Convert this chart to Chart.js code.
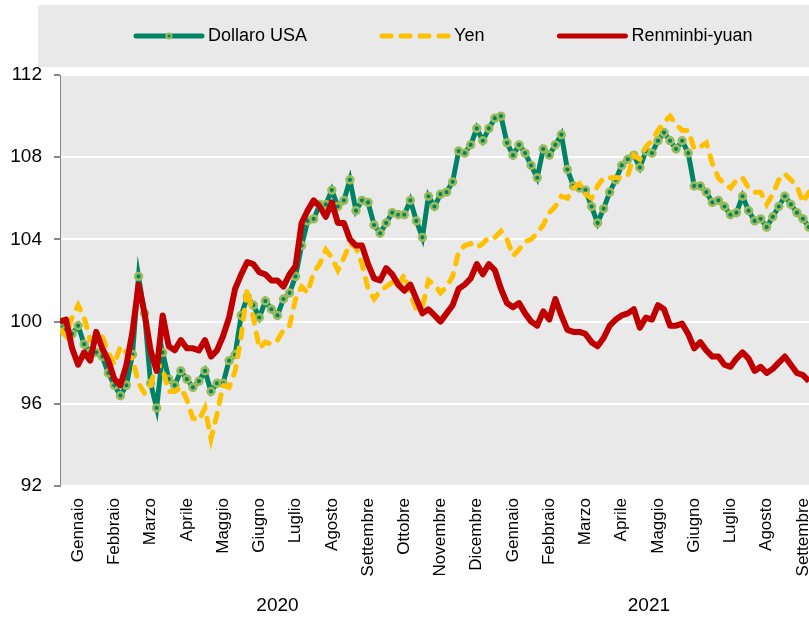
<!DOCTYPE html>
<html>
<head>
<meta charset="utf-8">
<script src="https://cdn.jsdelivr.net/npm/chart.js@4"></script>
<style>
  body { margin: 0; background: #fff; }
</style>
</head>
<body>
<canvas id="cambi" width="809" height="622"></canvas>
<script>
// mesi sull'asse x (gennaio 2020 - settembre 2021)
const mesi = ['Gennaio', 'Febbraio', 'Marzo', 'Aprile', 'Maggio', 'Giugno', 'Luglio', 'Agosto',
    'Settembre', 'Ottobre', 'Novembre', 'Dicembre', 'Gennaio', 'Febbraio', 'Marzo', 'Aprile',
    'Maggio', 'Giugno', 'Luglio', 'Agosto', 'Settembre'];
const anni = ['2020', '2021'];
const yTicks = [92, 96, 100, 104, 108, 112];
const puntiPerMese = 6;

// indici (gennaio 2020 = 100), un valore ogni 1/6 di mese
const dollaro = [
    100.0, 99.6, 99.4, 99.8, 98.9, 98.5, 98.5, 98.3, 97.5, 96.9,
    96.4, 96.9, 98.4, 102.2, 100.4, 97.0, 95.8, 98.5, 97.2, 96.9,
    97.6, 97.2, 96.8, 97.1, 97.6, 96.6, 97.0, 97.0, 98.1, 98.4,
    100.3, 101.2, 100.8, 100.2, 101.0, 100.6, 100.3, 101.1, 101.4, 102.2,
    103.7, 104.9, 105.0, 105.7, 105.7, 106.4, 105.6, 105.9, 106.9, 105.4,
    105.9, 105.8, 104.7, 104.3, 104.8, 105.3, 105.2, 105.2, 105.9, 104.9,
    104.1, 106.1, 105.6, 106.2, 106.3, 106.8, 108.3, 108.2, 108.6, 109.4,
    108.8, 109.4, 109.9, 110.0, 108.7, 108.1, 108.6, 108.2, 107.6, 107.0,
    108.4, 108.1, 108.6, 109.1, 107.4, 106.6, 106.5, 106.4, 105.6, 104.8,
    105.5, 106.3, 106.9, 107.6, 107.9, 108.1, 107.5, 108.3, 108.2, 108.8,
    109.2, 108.8, 108.4, 108.8, 108.2, 106.6, 106.6, 106.3, 105.8, 105.9,
    105.6, 105.2, 105.3, 106.1, 105.4, 104.9, 105.0, 104.6, 105.1, 105.6,
    106.1, 105.7, 105.3, 105.0, 104.6
];
const yen = [
    99.6, 99.3, 100.2, 100.8, 100.2, 99.1, 99.0, 99.3, 98.5, 97.9,
    98.8, 98.5, 98.2, 97.0, 96.5, 96.9, 98.0, 97.7, 96.6, 96.6,
    96.8, 96.2, 95.3, 95.2, 95.8, 94.3, 95.5, 96.9, 96.8, 97.6,
    99.3, 101.6, 100.2, 98.7, 99.0, 98.9, 99.1, 99.6, 99.8, 101.1,
    101.7, 101.4, 102.4, 102.8, 103.5, 103.1, 102.5, 103.1, 103.8, 103.6,
    102.8, 101.6, 101.1, 101.5, 101.7, 101.9, 101.7, 102.3, 101.3, 100.6,
    100.7, 102.0, 101.8, 101.4, 101.7, 102.2, 103.4, 103.7, 103.8, 103.6,
    103.8, 104.1, 104.1, 104.4, 104.0, 103.2, 103.5, 103.9, 104.0, 104.3,
    104.7, 105.3, 105.6, 106.1, 106.0, 106.5, 106.7, 106.2, 106.0, 106.6,
    107.0, 107.0, 107.0, 107.0, 107.1, 108.1, 107.9, 108.5, 108.8, 109.3,
    109.7, 110.0, 109.6, 109.3, 109.3, 108.4, 108.5, 108.7, 107.7, 107.0,
    106.7, 106.5, 106.9, 107.0, 106.5, 106.3, 106.3, 105.7, 106.2, 106.9,
    107.2, 106.9, 106.6, 105.8, 106.3
];
const renminbi = [
    100.0, 100.1, 98.7, 97.9, 98.5, 98.1, 99.5, 98.7, 98.1, 97.2,
    96.9, 97.9, 99.5, 101.8, 100.4, 98.6, 97.6, 100.3, 98.8, 98.6,
    99.1, 98.7, 98.7, 98.6, 99.1, 98.3, 98.6, 99.3, 100.2, 101.6,
    102.3, 102.9, 102.8, 102.4, 102.3, 102.0, 102.0, 101.7, 102.3, 102.7,
    104.8, 105.4, 105.9, 105.6, 105.1, 105.8, 104.8, 104.8, 104.0, 103.7,
    103.7, 102.8, 102.1, 102.0, 102.6, 102.3, 101.8, 101.5, 101.8, 101.1,
    100.4, 100.6, 100.3, 100.0, 100.4, 100.8, 101.6, 101.8, 102.1, 102.8,
    102.3, 102.8, 102.5, 101.6, 100.9, 100.7, 100.9, 100.4, 100.0, 99.8,
    100.5, 100.1, 101.1, 100.3, 99.6, 99.5, 99.5, 99.4, 99.0, 98.8,
    99.2, 99.8, 100.1, 100.3, 100.4, 100.6, 99.7, 100.2, 100.1, 100.8,
    100.6, 99.8, 99.8, 99.9, 99.4, 98.7, 99.0, 98.6, 98.3, 98.3,
    97.9, 97.8, 98.2, 98.5, 98.2, 97.6, 97.8, 97.5, 97.7, 98.0,
    98.3, 97.9, 97.5, 97.4, 97.1
];

const FONT = "'Liberation Sans', Arial, sans-serif";
Chart.defaults.font.family = FONT;
Chart.defaults.color = '#000';

function punti(valori) {
    return valori.map((v, i) => ({ x: i / puntiPerMese, y: v }));
}

// sfondo grigio dell'area del grafico e della legenda
const sfondo = {
    id: 'sfondo',
    beforeDraw(chart) {
        const { ctx, chartArea: a } = chart;
        ctx.save();
        ctx.fillStyle = '#e9e9e9';
        ctx.fillRect(a.left, a.top, a.right - a.left, a.bottom - a.top);
        ctx.fillRect(38, 5, chart.width - 38, 62);
        ctx.restore();
    }
};

// legenda disegnata a mano (linea campione + testo)
const legenda = {
    id: 'legenda',
    afterDraw(chart) {
        const ctx = chart.ctx;
        let x = 133;
        const y = 36;
        ctx.save();
        ctx.font = '18px ' + FONT;
        ctx.textBaseline = 'middle';
        chart.data.datasets.forEach(ds => {
            ctx.save();
            ctx.strokeStyle = ds.borderColor;
            ctx.lineWidth = 5;
            ctx.lineCap = 'round';
            ctx.setLineDash(ds.borderDash || []);
            ctx.beginPath();
            ctx.moveTo(x + 3, y);
            ctx.lineTo(x + 69, y);
            ctx.stroke();
            ctx.restore();
            if (ds.pointRadius) {
                ctx.beginPath();
                ctx.arc(x + 36, y, 2.6, 0, Math.PI * 2);
                ctx.fillStyle = ds.pointBackgroundColor;
                ctx.fill();
                ctx.lineWidth = 2;
                ctx.strokeStyle = ds.pointBorderColor;
                ctx.stroke();
            }
            ctx.fillStyle = '#000';
            ctx.fillText(ds.label, x + 75, y);
            x += 75 + ctx.measureText(ds.label).width + 72;
        });
        ctx.restore();
    }
};

// anni sotto i mesi
const etichetteAnni = {
    id: 'anni',
    afterDraw(chart) {
        const ctx = chart.ctx;
        const xs = chart.scales.x;
        const centri = [6, (12 + mesi.length - 0.5) / 2];
        ctx.save();
        ctx.font = '19px ' + FONT;
        ctx.fillStyle = '#000';
        ctx.textAlign = 'center';
        ctx.textBaseline = 'middle';
        anni.forEach((a, i) => ctx.fillText(a, xs.getPixelForValue(centri[i]), 606));
        ctx.restore();
    }
};

new Chart(document.getElementById('cambi'), {
    type: 'line',
    data: {
        datasets: [{
            label: 'Dollaro USA',
            data: punti(dollaro),
            borderColor: '#008364',
            borderWidth: 5,
            pointRadius: 3.4,
            pointBorderWidth: 2.6,
            pointBorderColor: '#9bbb59',
            pointBackgroundColor: '#008364',
            order: 3
        }, {
            label: 'Yen',
            data: punti(yen),
            borderColor: '#ffc000',
            borderWidth: 5,
            borderDash: [9, 10],
            borderCapStyle: 'round',
            pointRadius: 0,
            order: 2
        }, {
            label: 'Renminbi-yuan',
            data: punti(renminbi),
            borderColor: '#c00000',
            borderWidth: 6,
            borderJoinStyle: 'round',
            pointRadius: 0,
            order: 1
        }]
    },
    options: {
        responsive: false,
        animation: false,
        layout: { autoPadding: false, padding: { top: 75, right: 0, bottom: 0, left: 0 } },
        plugins: {
            legend: { display: false },
            tooltip: { enabled: false }
        },
        scales: {
            x: {
                type: 'linear',
                min: 0,
                max: (dollaro.length - 1) / puntiPerMese,
                afterBuildTicks: (scale) => {
                    scale.ticks = mesi.map((m, i) => ({ value: i + 0.5 }));
                },
                afterFit: (scale) => {
                    scale.height = 136;
                    scale.paddingLeft = 0;
                    scale.paddingRight = 0;
                },
                grid: { display: false },
                border: { display: false },
                ticks: {
                    autoSkip: false,
                    minRotation: 90,
                    maxRotation: 90,
                    padding: 4,
                    font: { size: 17 },
                    callback: (value, index) => mesi[index]
                }
            },
            y: {
                min: 92,
                max: 112,
                afterBuildTicks: (scale) => {
                    scale.ticks = yTicks.map(v => ({ value: v }));
                },
                afterFit: (scale) => {
                    scale.width = 60;
                    scale.paddingTop = 0;
                    scale.paddingBottom = 0;
                },
                grid: {
                    color: '#ffffff',
                    lineWidth: 2,
                    tickColor: '#888888',
                    tickLength: 6
                },
                border: { display: true, color: '#888888', width: 1 },
                ticks: {
                    padding: 12,
                    font: { size: 19 }
                }
            }
        }
    },
    plugins: [sfondo, legenda, etichetteAnni]
});
</script>
</body>
</html>
